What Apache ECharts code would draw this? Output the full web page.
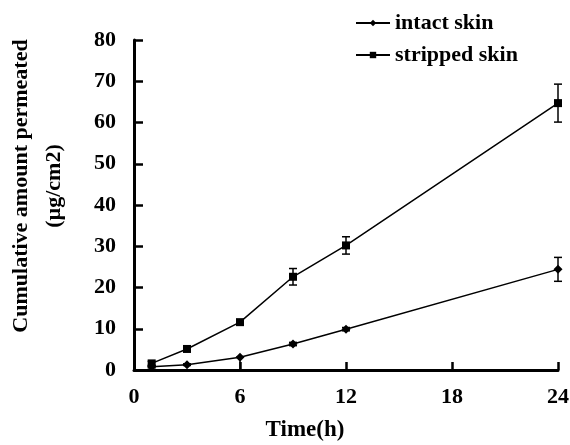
<!DOCTYPE html>
<html><head><meta charset="utf-8">
<script src="https://cdn.jsdelivr.net/npm/echarts@6/dist/echarts.min.js"></script>
<style>html,body{margin:0;padding:0;background:#fff}#c{width:570px;height:445px}</style>
</head><body><div id="c"></div>
<script>
const times = [1, 3, 6, 9, 12, 24];
const intactMean = [0.8, 1.3, 3.1, 6.3, 9.9, 24.4];
const intactErrLow  = [0.3, 0.2, 3.1, 0.4, 0.4, 2.9];
const intactErrHigh = [0.3, 0.2, 0.0, 0.4, 0.4, 2.9];
const strippedMean = [1.6, 5.1, 11.6, 22.6, 30.2, 64.7];
const strippedErr  = [0.5, 0.4, 0.5, 2.0, 2.1, 4.6];
const xTicks = [0, 6, 12, 18, 24];
const yTicks = [0, 10, 20, 30, 40, 50, 60, 70, 80];

const FONT = '"Liberation Serif", "Times New Roman", serif';

function errData(mean, lo, hi) {
  return times.map((t, i) => [t, mean[i] - lo[i], mean[i] + hi[i]]);
}
function errRender(params, api) {
  const x = api.value(0);
  const lo = api.coord([x, api.value(1)]);
  const hi = api.coord([x, api.value(2)]);
  const w = 4;
  return {
    type: 'group',
    children: [
      {type: 'line', shape: {x1: lo[0], y1: lo[1], x2: hi[0], y2: hi[1]}, style: {stroke: '#000', lineWidth: 1.5}},
      {type: 'line', shape: {x1: hi[0] - w, y1: hi[1], x2: hi[0] + w, y2: hi[1]}, style: {stroke: '#000', lineWidth: 1.5}},
      {type: 'line', shape: {x1: lo[0] - w, y1: lo[1], x2: lo[0] + w, y2: lo[1]}, style: {stroke: '#000', lineWidth: 1.5}}
    ]
  };
}

const chart = echarts.init(document.getElementById('c'), null, {renderer: 'canvas'});
chart.setOption({
  animation: false,
  backgroundColor: '#fff',
  grid: {left: 134, right: 12, top: 40, bottom: 75, containLabel: false, outerBoundsMode: 'none'},
  legend: {
    left: 350, top: 7, orient: 'vertical', itemGap: 10, itemWidth: 34, itemHeight: 8,
    textStyle: {fontFamily: FONT, fontWeight: 'bold', fontSize: 22, color: '#000', padding: [0, 0, 0, 0]},
    data: ['intact skin', 'stripped skin']
  },
  xAxis: {
    type: 'value', min: xTicks[0], max: xTicks[xTicks.length - 1], interval: 6,
    name: 'Time(h)', nameLocation: 'middle', nameGap: 49,
    nameTextStyle: {fontFamily: FONT, fontWeight: 'bold', fontSize: 23, color: '#000', padding: [0, 82, 0, 0]},
    axisLine: {lineStyle: {color: '#000', width: 3}},
    axisTick: {inside: true, length: 8, lineStyle: {color: '#000', width: 2.5}},
    axisLabel: {fontFamily: FONT, fontWeight: 'bold', fontSize: 22, color: '#000', margin: 16},
    splitLine: {show: false}
  },
  yAxis: {
    type: 'value', min: yTicks[0], max: yTicks[yTicks.length - 1], interval: 10,
    name: 'Cumulative amount permeated\n(µg/cm2)', nameLocation: 'middle', nameGap: 63, nameRotate: 90,
    nameTextStyle: {fontFamily: FONT, fontWeight: 'bold', fontSize: 22, color: '#000', lineHeight: 33, padding: [0, 0, 0, 38]},
    axisLine: {lineStyle: {color: '#000', width: 3}},
    axisTick: {inside: true, length: 9, lineStyle: {color: '#000', width: 2.5}},
    axisLabel: {fontFamily: FONT, fontWeight: 'bold', fontSize: 22, color: '#000', margin: 18},
    splitLine: {show: false}
  },
  series: [
    {
      name: 'intact skin', type: 'line', data: times.map((t, i) => [t, intactMean[i]]),
      symbol: 'diamond', symbolSize: 9, showSymbol: true,
      lineStyle: {color: '#000', width: 1.5}, itemStyle: {color: '#000'}, z: 3
    },
    {
      name: 'stripped skin', type: 'line', data: times.map((t, i) => [t, strippedMean[i]]),
      symbol: 'rect', symbolSize: 8, showSymbol: true,
      lineStyle: {color: '#000', width: 1.5}, itemStyle: {color: '#000'}, z: 3
    },
    {type: 'custom', name: 'intact err', data: errData(intactMean, intactErrLow, intactErrHigh), renderItem: errRender, z: 4, silent: true},
    {type: 'custom', name: 'stripped err', data: errData(strippedMean, strippedErr, strippedErr), renderItem: errRender, z: 4, silent: true}
  ]
});
</script></body></html>
